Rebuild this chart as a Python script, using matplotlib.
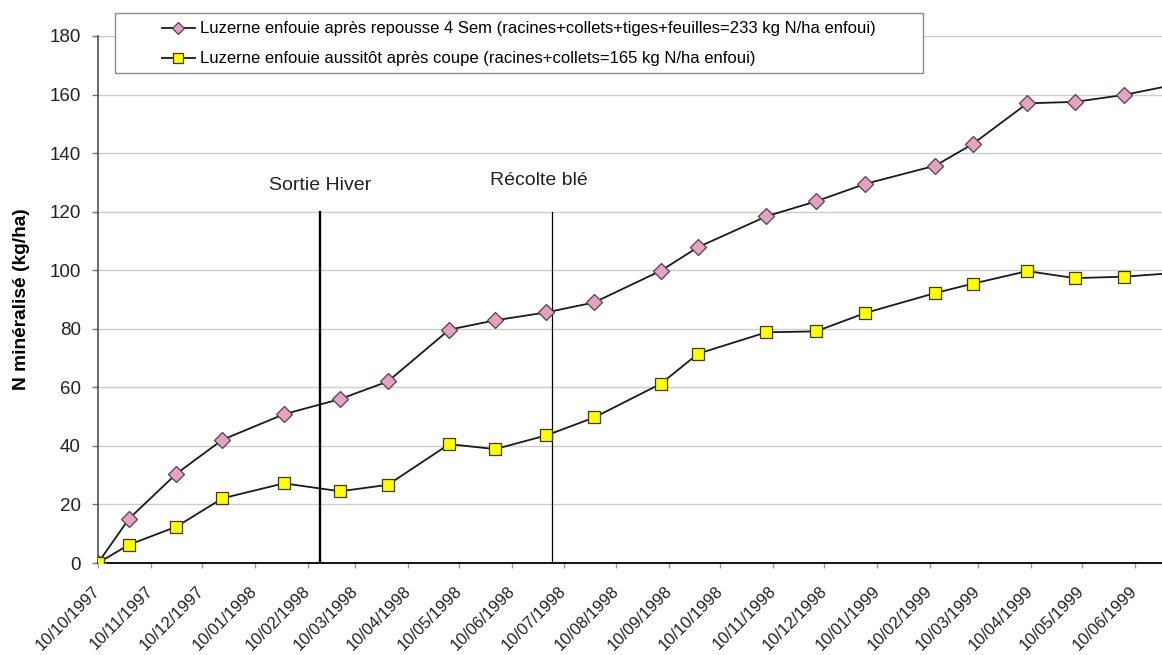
import numpy as np
import pandas as pd
import matplotlib
matplotlib.use("Agg")
import matplotlib.pyplot as plt
import matplotlib.dates as mdates
from matplotlib.patches import Rectangle

plt.rcParams['font.family'] = ['Liberation Sans', 'DejaVu Sans']

# sampling dates (last one lies just past the right edge of the chart)
dates = pd.to_datetime([
    '1997-10-10', '1997-10-28', '1997-11-25', '1997-12-22', '1998-01-27',
    '1998-03-01', '1998-03-29', '1998-05-04', '1998-05-31', '1998-06-30',
    '1998-07-28', '1998-09-05', '1998-09-27', '1998-11-06', '1998-12-05',
    '1999-01-03', '1999-02-13', '1999-03-07', '1999-04-08', '1999-05-06',
    '1999-06-04', '1999-07-02'])

# N mineralised (kg/ha)
repousse = [0, 15.0, 30.5, 42.1, 50.8, 56.0, 62.0, 79.7, 82.9, 85.6, 89.0,
            99.8, 107.9, 118.4, 123.5, 129.5, 135.7, 143.1, 157.0, 157.5,
            159.9, 163.2]
coupe = [0, 6.2, 12.4, 22.1, 27.2, 24.5, 26.7, 40.6, 38.9, 43.6, 49.7,
         61.2, 71.5, 78.8, 79.1, 85.4, 92.2, 95.4, 99.7, 97.3, 97.8, 99.0]

label_repousse = "Luzerne enfouie après repousse 4 Sem (racines+collets+tiges+feuilles=233 kg N/ha enfoui)"
label_coupe = "Luzerne enfouie aussitôt après coupe (racines+collets=165 kg N/ha enfoui)"

# monthly ticks on the 10th
tick_dates = pd.date_range('1997-10-01', '1999-06-01', freq='MS') + pd.Timedelta(days=9)
x_start = pd.Timestamp('1997-10-10')
x_end = pd.Timestamp('1999-06-26')

events = ['Sortie Hiver', 'Récolte blé']
event_dates = pd.to_datetime(['1998-02-17', '1998-07-03'])
event_widths = [1.7, 0.9]
event_top = 120
event_text_y = [129, 130.5]
event_text_dx = [0, -9]   # points

fig = plt.figure(figsize=(11.62, 6.55), dpi=100)
ax = fig.add_axes([98 / 1162, 1 - 563 / 655, 1 - 98 / 1162, (563 - 36) / 655])

ax.plot(dates, repousse, '-', color='#1a1a1a', lw=1.3, marker='D', ms=7.8,
        mfc='#E3A2C2', mec='#5a3d4c', mew=0.9, label=label_repousse, zorder=4)
ax.plot(dates, coupe, '-', color='#1a1a1a', lw=1.3, marker='s', ms=8.5,
        mfc='#FFFF00', mec='#3d3d00', mew=0.9, label=label_coupe, zorder=4)

for name, d, w, ty, dx in zip(events, event_dates, event_widths, event_text_y, event_text_dx):
    ax.plot([d, d], [0, event_top], color='black', lw=w, zorder=3)
    ax.annotate(name, xy=(d, ty), xytext=(dx, 0), textcoords='offset points',
                ha='center', va='center', fontsize=14, color='#222222')

ax.set_xlim(x_start, x_end)
ax.set_ylim(0, 180)
ax.set_yticks(np.arange(0, 181, 20))
ax.set_xticks(tick_dates)
ax.xaxis.set_major_formatter(mdates.DateFormatter('%d/%m/%Y'))
ax.tick_params(axis='y', labelsize=13.5, length=4.3, width=1, pad=8,
               color='#777777', labelcolor='#222222')
ax.tick_params(axis='x', labelsize=12, length=3.6, width=1, pad=15,
               color='#999999', labelcolor='#222222')
plt.setp(ax.get_xticklabels(), rotation=45, ha='right', va='center', rotation_mode='anchor')

ax.grid(axis='y', color='#cccccc', lw=1)
ax.set_axisbelow(True)
for s in ['top', 'right']:
    ax.spines[s].set_visible(False)
ax.spines['bottom'].set_color('black')
ax.spines['bottom'].set_linewidth(1.3)
ax.spines['left'].set_color('#444444')
ax.spines['left'].set_linewidth(1.1)

ax.set_ylabel('N minéralisé (kg/ha)', fontsize=13.8, fontweight='bold', labelpad=14)

# legend box (fixed Excel-like frame)
fig.patches.append(Rectangle((115 / 1162, 1 - 73 / 655), (923 - 115) / 1162, (73 - 12.5) / 655,
                             transform=fig.transFigure, facecolor='white',
                             edgecolor='#8c8c8c', lw=1, zorder=2))
leg = fig.legend(loc='upper left', bbox_to_anchor=(162 / 1162, 1 - 21.5 / 655),
                 borderaxespad=0, borderpad=0, fontsize=12, frameon=False,
                 handlelength=1.95, handletextpad=0.3, labelspacing=0.9,
                 markerscale=0.8)
leg.set_zorder(3)

fig.savefig('out.png', dpi=100, facecolor='white')
